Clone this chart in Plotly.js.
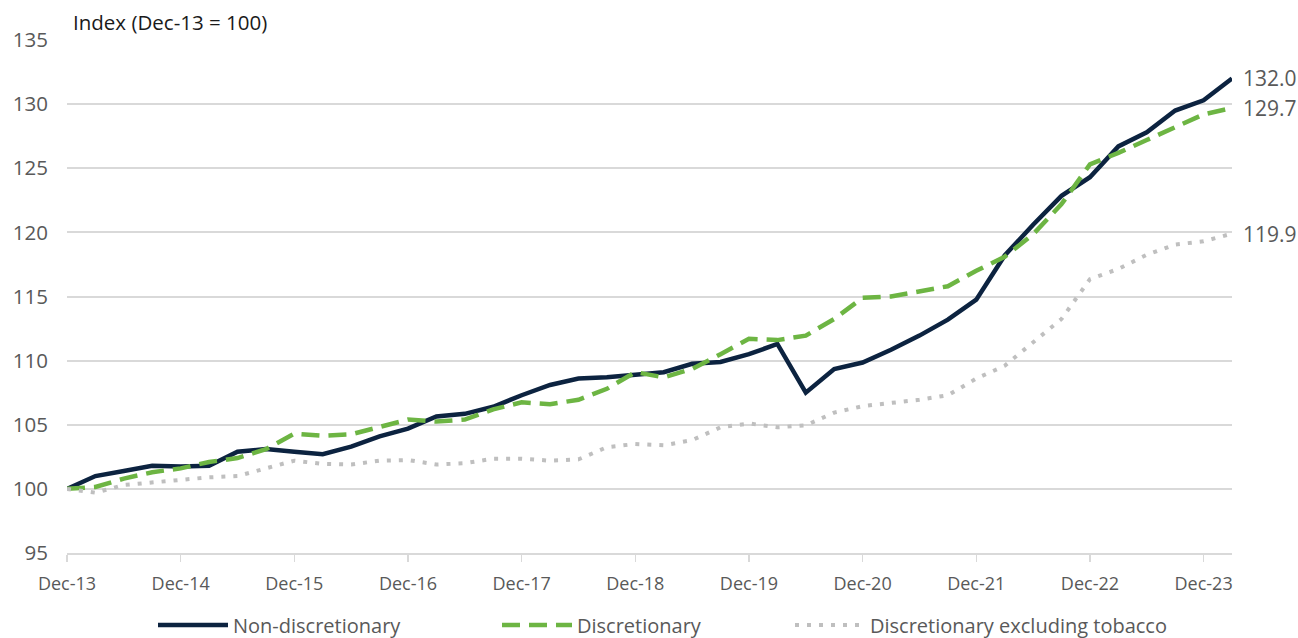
<!DOCTYPE html>
<html>
<head>
<meta charset="utf-8">
<script src="https://cdn.plot.ly/plotly-3.0.1.min.js"></script>
<style>
  html, body { margin: 0; padding: 0; background: #fff; }
  #chart { width: 1298px; height: 638px; }
</style>
</head>
<body>
<div id="chart"></div>
<script>
// quarterly, Dec-13 to Mar-24
const quarters = [
  'Dec-13','Mar-14','Jun-14','Sep-14','Dec-14','Mar-15','Jun-15','Sep-15',
  'Dec-15','Mar-16','Jun-16','Sep-16','Dec-16','Mar-17','Jun-17','Sep-17',
  'Dec-17','Mar-18','Jun-18','Sep-18','Dec-18','Mar-19','Jun-19','Sep-19',
  'Dec-19','Mar-20','Jun-20','Sep-20','Dec-20','Mar-21','Jun-21','Sep-21',
  'Dec-21','Mar-22','Jun-22','Sep-22','Dec-22','Mar-23','Jun-23','Sep-23',
  'Dec-23','Mar-24'
];
const tickLabels = ['Dec-13','Dec-14','Dec-15','Dec-16','Dec-17','Dec-18',
                    'Dec-19','Dec-20','Dec-21','Dec-22','Dec-23'];

const nonDiscretionary = [
  100.0, 101.0, 101.4, 101.8, 101.75, 101.8, 102.9, 103.1,
  102.9, 102.7, 103.3, 104.1, 104.7, 105.65, 105.85, 106.4,
  107.3, 108.1, 108.6, 108.7, 108.9, 109.1, 109.75, 109.9,
  110.5, 111.3, 107.5, 109.35, 109.85, 110.85, 111.95, 113.2,
  114.75, 118.2, 120.6, 122.85, 124.3, 126.7, 127.8, 129.5,
  130.3, 132.0
];
const discretionary = [
  100.0, 100.15, 100.8, 101.3, 101.6, 102.1, 102.4, 103.1,
  104.3, 104.15, 104.25, 104.8, 105.4, 105.25, 105.4, 106.2,
  106.75, 106.6, 106.95, 107.8, 109.1, 108.7, 109.35, 110.5,
  111.7, 111.6, 111.95, 113.25, 114.9, 115.0, 115.4, 115.8,
  117.0, 118.1, 119.85, 122.2, 125.3, 126.2, 127.2, 128.2,
  129.2, 129.7
];
const discExTobacco = [
  100.0, 99.7, 100.3, 100.5, 100.7, 100.9, 101.0, 101.6,
  102.2, 101.95, 101.9, 102.2, 102.25, 101.9, 102.0, 102.35,
  102.35, 102.2, 102.3, 103.25, 103.5, 103.4, 103.8, 104.8,
  105.1, 104.8, 104.95, 105.95, 106.45, 106.7, 106.95, 107.3,
  108.6, 109.6, 111.4, 113.25, 116.35, 117.15, 118.25, 119.05,
  119.3, 119.9
];

const navy = '#0c2340';
const green = '#6db543';
const grey = '#bfbfbf';
const txt = '#595959';
const fnt = 'Open Sans, Noto Sans, sans-serif';

const traces = [
  {x: quarters, y: nonDiscretionary, name: 'Non-discretionary', mode: 'lines',
   line: {color: navy, width: 4.5}, legend: 'legend'},
  {x: quarters, y: discretionary, name: 'Discretionary', mode: 'lines',
   line: {color: green, width: 4.5, dash: '18px,9px'}, legend: 'legend2'},
  {x: quarters, y: discExTobacco, name: 'Discretionary excluding tobacco', mode: 'lines',
   line: {color: grey, width: 4, dash: '4px,8px'}, legend: 'legend3'}
];

const last = quarters.length - 1;
const endLabels = [nonDiscretionary, discretionary, discExTobacco].map(s => ({
  x: quarters[last], y: s[last], text: s[last].toFixed(1),
  xref: 'x', yref: 'y', xanchor: 'left', yanchor: 'middle', xshift: 9,
  showarrow: false, font: {family: fnt, size: 21, color: txt}
}));

// one legend box per series, so the gaps between them can follow the reference
function legendAt(px) {
  return {orientation: 'h', xref: 'container', yref: 'container',
          x: px / 1298, xanchor: 'left', y: 13 / 638, yanchor: 'middle',
          font: {family: fnt, size: 20, color: txt}, itemwidth: 70,
          bgcolor: 'rgba(0,0,0,0)'};
}

const layout = {
  width: 1298, height: 638,
  margin: {l: 67, r: 66, t: 40, b: 85, autoexpand: false},
  paper_bgcolor: '#fff', plot_bgcolor: '#fff',
  font: {family: fnt, color: txt},
  showlegend: true,
  legend: legendAt(153),
  legend2: legendAt(497),
  legend3: legendAt(790),
  xaxis: {
    type: 'category', categoryorder: 'array', categoryarray: quarters,
    range: [0, last], tickmode: 'array', tickvals: tickLabels, ticktext: tickLabels,
    showgrid: false, zeroline: false, showline: true, linecolor: '#d9d9d9', linewidth: 2,
    ticks: 'outside', ticklen: 7, tickcolor: '#d9d9d9', tickwidth: 1.5,
    tickfont: {family: fnt, size: 18, color: txt}, ticklabelstandoff: 6
  },
  yaxis: {
    range: [95, 135], dtick: 5, tick0: 95,
    showgrid: true, gridcolor: '#d9d9d9', gridwidth: 2, zeroline: false, showline: false,
    ticks: '', tickfont: {family: fnt, size: 20.5, color: txt}, ticklabelstandoff: 18
  },
  annotations: [
    {text: 'Index (Dec-13 = 100)', xref: 'paper', yref: 'paper', x: 0, y: 1,
     xanchor: 'left', yanchor: 'bottom', xshift: 4, yshift: 2, showarrow: false,
     font: {family: fnt, size: 20.5, color: '#1a1a1a'}}
  ].concat(endLabels)
};

Plotly.newPlot('chart', traces, layout, {displayModeBar: false, staticPlot: true});
</script>
</body>
</html>
